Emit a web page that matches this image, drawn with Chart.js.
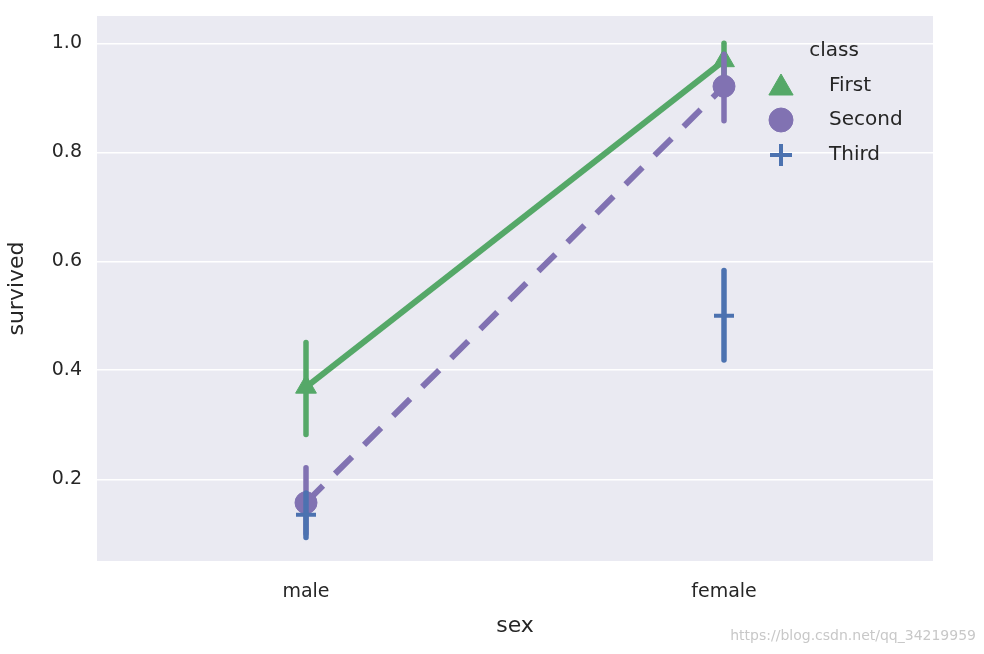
<!DOCTYPE html>
<html>
<head>
<meta charset="utf-8">
<script src="https://cdn.jsdelivr.net/npm/chart.js@4.4.1/dist/chart.umd.min.js"></script>
<style>
  html, body { margin: 0; padding: 0; background: #ffffff; }
  #wrap { width: 984px; height: 654px; }
</style>
</head>
<body>
<div id="wrap"><canvas id="c" width="984" height="654"></canvas></div>
<script>
const categories = ["male", "female"];
const seriesNames = ["First", "Second", "Third"];
const firstMean  = [0.369, 0.968];
const firstLow   = [0.282, 0.930];
const firstHigh  = [0.451, 1.000];
const secondMean = [0.157, 0.921];
const secondLow  = [0.100, 0.858];
const secondHigh = [0.221, 0.980];
const thirdMean  = [0.135, 0.500];
const thirdLow   = [0.093, 0.419];
const thirdHigh  = [0.175, 0.583];
const yTicks = [0.2, 0.4, 0.6, 0.8, 1.0];
const xTitle = "sex";
const yTitle = "survived";
const legendTitle = "class";
const watermark = "https://blog.csdn.net/qq_34219959";

const GREEN = "#55A868", PURPLE = "#8172B2", BLUE = "#4C72B0";
const TXT = "#262626";
const FONT = "'DejaVu Sans', sans-serif";

const errLow = [firstLow, secondLow, thirdLow];
const errHigh = [firstHigh, secondHigh, thirdHigh];

const bgPlugin = {
  id: "bg",
  beforeDraw(chart) {
    const a = chart.chartArea, ctx = chart.ctx;
    ctx.save();
    ctx.fillStyle = "#EAEAF2";
    ctx.fillRect(a.left, a.top, a.right - a.left, a.bottom - a.top);
    ctx.restore();
  }
};

const errPlugin = {
  id: "err",
  beforeDatasetDraw(chart, args) {
    const i = args.index;
    const ds = chart.data.datasets[i];
    const xs = chart.scales.x, ys = chart.scales.y, ctx = chart.ctx;
    ctx.save();
    ctx.strokeStyle = ds.borderColor;
    ctx.lineWidth = 5.5;
    ctx.lineCap = "round";
    for (let j = 0; j < categories.length; j++) {
      const x = xs.getPixelForValue(j);
      ctx.beginPath();
      ctx.moveTo(x, ys.getPixelForValue(errLow[i][j]));
      ctx.lineTo(x, ys.getPixelForValue(errHigh[i][j]));
      ctx.stroke();
    }
    ctx.restore();
  }
};

const legendPlugin = {
  id: "customLegend",
  afterDraw(chart) {
    const ctx = chart.ctx;
    ctx.save();
    ctx.font = "20px " + FONT;
    ctx.fillStyle = TXT;
    ctx.textBaseline = "middle";
    ctx.textAlign = "center";
    ctx.fillText(legendTitle, 834, 51);
    ctx.textAlign = "left";
    const ys = [86, 120, 155];
    const styles = [
      { pointStyle: "triangle", radius: 14, borderWidth: 1 },
      { pointStyle: "circle", radius: 12, borderWidth: 1 },
      { pointStyle: "cross", radius: 11, borderWidth: 4 }
    ];
    chart.data.datasets.forEach((ds, k) => {
      ctx.fillStyle = ds.borderColor;
      ctx.strokeStyle = ds.borderColor;
      ctx.lineWidth = styles[k].borderWidth;
      Chart.helpers.drawPoint(ctx, { pointStyle: styles[k].pointStyle, radius: styles[k].radius, rotation: 0, borderWidth: styles[k].borderWidth }, 781, ys[k] + (k === 0 ? 2 : 0));
      ctx.fillStyle = TXT;
      ctx.fillText(ds.label, 829, ys[k]);
    });
    ctx.font = "14px " + FONT;
    ctx.fillStyle = "#C8C8C8";
    ctx.textAlign = "right";
    ctx.fillText(watermark, 976, 636);
    ctx.restore();
  }
};

new Chart(document.getElementById("c"), {
  type: "line",
  data: {
    labels: categories,
    datasets: [
      {
        label: seriesNames[0], data: firstMean, order: 3,
        borderColor: GREEN, backgroundColor: GREEN, borderWidth: 6,
        pointStyle: "triangle", pointRadius: 12, pointBorderWidth: 1,
        pointBackgroundColor: GREEN, pointBorderColor: GREEN
      },
      {
        label: seriesNames[1], data: secondMean, order: 2,
        borderColor: PURPLE, backgroundColor: PURPLE, borderWidth: 6,
        borderDash: [24, 17],
        pointStyle: "circle", pointRadius: 11, pointBorderWidth: 1,
        pointBackgroundColor: PURPLE, pointBorderColor: PURPLE
      },
      {
        label: seriesNames[2], data: thirdMean, order: 1, showLine: false,
        borderColor: BLUE, backgroundColor: BLUE, borderWidth: 6,
        pointStyle: "cross", pointRadius: 10, pointBorderWidth: 4,
        pointBackgroundColor: BLUE, pointBorderColor: BLUE
      }
    ]
  },
  options: {
    responsive: false,
    animation: false,
    devicePixelRatio: 1,
    layout: { padding: { left: 0, right: 51, top: 16, bottom: 0 } },
    plugins: { legend: { display: false }, tooltip: { enabled: false } },
    scales: {
      x: {
        type: "category",
        offset: true,
        grid: { display: false, drawTicks: false },
        border: { display: false },
        ticks: { color: TXT, font: { family: FONT, size: 19 }, padding: 20 },
        title: { display: true, text: xTitle, color: TXT, font: { family: FONT, size: 22 }, padding: { top: 4, bottom: 15 } },
        afterFit(scale) { scale.height = 93; scale.paddingLeft = 0; scale.paddingRight = 0; }
      },
      y: {
        type: "linear",
        min: 0.05, max: 1.05,
        afterBuildTicks(scale) { scale.ticks = yTicks.map(v => ({ value: v })); },
        grid: { color: "#FFFFFF", lineWidth: 1.5, drawTicks: false },
        border: { display: false },
        ticks: { color: TXT, font: { family: FONT, size: 19 }, padding: 15,
                 callback: v => v.toFixed(1) },
        title: { display: true, text: yTitle, color: TXT, font: { family: FONT, size: 22 }, padding: { top: 4, bottom: 0 } },
        afterFit(scale) { scale.width = 97; scale.paddingTop = 0; scale.paddingBottom = 0; }
      }
    }
  },
  plugins: [bgPlugin, errPlugin, legendPlugin]
});
</script>
</body>
</html>
